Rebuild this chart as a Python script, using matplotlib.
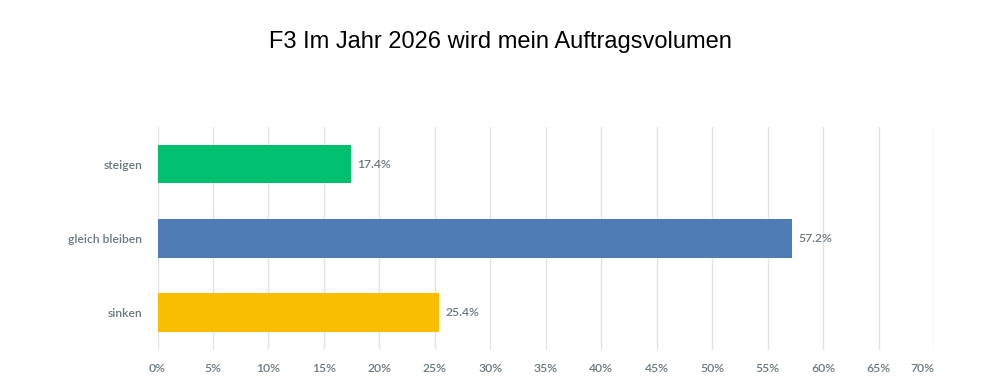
import matplotlib.pyplot as plt
import numpy as np

categories = ["steigen", "gleich bleiben", "sinken"]
values = [17.4, 57.2, 25.4]
colors = ["#00BF6F", "#507CB6", "#F9BE00"]
xticks = list(range(0, 75, 5))
xtick_labels = [f"{t}%" for t in xticks]

title = "F3 Im Jahr 2026 wird mein Auftragsvolumen"
text_color = "#6B787F"
font = "Lato"

fig = plt.figure(figsize=(10, 3.87), dpi=100)
ax = fig.add_axes([0.1575, 0.0956, 0.934 - 0.1575, 0.672 - 0.0956])

y = np.arange(len(categories))
ax.barh(y, values, height=0.52, color=colors, zorder=2)

for yi, v in zip(y, values):
    ax.annotate(f"{v}%", (v, yi), xytext=(4.5, 0), textcoords="offset points",
                ha="left", va="center", fontsize=8.7, color=text_color,
                family=font, weight="semibold")

ax.set_xlim(0, 70)
ax.set_ylim(len(categories) - 0.5, -0.5)
ax.set_yticks(y)
ax.set_yticklabels(categories, fontsize=8.7, color=text_color, family=font,
                   weight="semibold")
ax.set_xticks(xticks)
ax.set_xticklabels(xtick_labels, fontsize=8.7, color=text_color, family=font,
                   weight="semibold")
# last label is pulled in so it stays inside the frame
ax.get_xticklabels()[-1].set_horizontalalignment("right")

ax.tick_params(axis="both", length=0)
ax.tick_params(axis="x", pad=9)
ax.tick_params(axis="y", pad=11)
ax.grid(axis="x", color="#E3E3E3", linewidth=1, zorder=0)
for s in ax.spines.values():
    s.set_visible(False)

fig.suptitle(title, y=0.92, fontsize=17, family="Liberation Sans")

fig.savefig("out.png", dpi=100)
